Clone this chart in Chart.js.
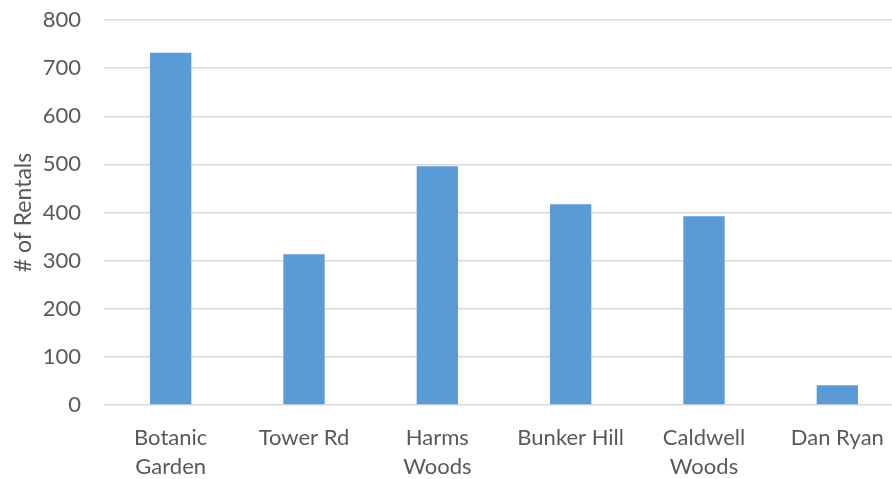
<!DOCTYPE html>
<html>
<head>
<meta charset="utf-8">
<script src="https://cdn.jsdelivr.net/npm/chart.js@4"></script>
<style>
  html, body { margin: 0; padding: 0; background: #fff; overflow: hidden; }
  #wrap { position: relative; width: 904px; height: 479px; }
</style>
</head>
<body>
<div id="wrap"><canvas id="c" width="904" height="479"></canvas></div>
<script>
// Rentals per location
const categories = [
  ['Botanic', 'Garden'],
  'Tower Rd',
  ['Harms', 'Woods'],
  'Bunker Hill',
  ['Caldwell', 'Woods'],
  'Dan Ryan'
];
const rentals = [732, 313, 496, 417, 392, 41];
const yTicks = [0, 100, 200, 300, 400, 500, 600, 700, 800];

const textColor = '#595959';
const gridColor = '#d9d9d9';
const fontFamily = 'Lato, "Open Sans", sans-serif';

new Chart(document.getElementById('c'), {
  type: 'bar',
  data: {
    labels: categories,
    datasets: [{
      data: rentals,
      backgroundColor: '#5b9bd5',
      borderWidth: 0,
      categoryPercentage: 1,
      barPercentage: 0.31
    }]
  },
  options: {
    responsive: false,
    animation: false,
    layout: { padding: { top: 20, right: 0, bottom: 0, left: 0 } },
    plugins: { legend: { display: false }, tooltip: { enabled: false } },
    scales: {
      x: {
        grid: { display: false, drawTicks: false },
        border: { display: false },
        ticks: {
          color: textColor,
          font: { family: fontFamily, size: 22, lineHeight: 1.3 },
          padding: 19,
          maxRotation: 0,
          autoSkip: false
        },
        afterFit: s => { s.height = 74; }
      },
      y: {
        min: 0,
        max: 800,
        afterBuildTicks: s => { s.ticks = yTicks.map(v => ({ value: v })); },
        grid: { color: gridColor, lineWidth: 1.5, drawTicks: false },
        border: { display: false },
        ticks: {
          color: textColor,
          font: { family: fontFamily, size: 22 },
          padding: 23
        },
        title: {
          display: true,
          text: '# of Rentals',
          color: textColor,
          font: { family: fontFamily, size: 23 },
          padding: { top: 10, bottom: 0 }
        },
        // fixed axis width; the tick padding should not push the plot down
        afterFit: s => { s.width = 104; s.paddingTop = 0; s.paddingBottom = 0; }
      }
    }
  }
});
</script>
</body>
</html>
